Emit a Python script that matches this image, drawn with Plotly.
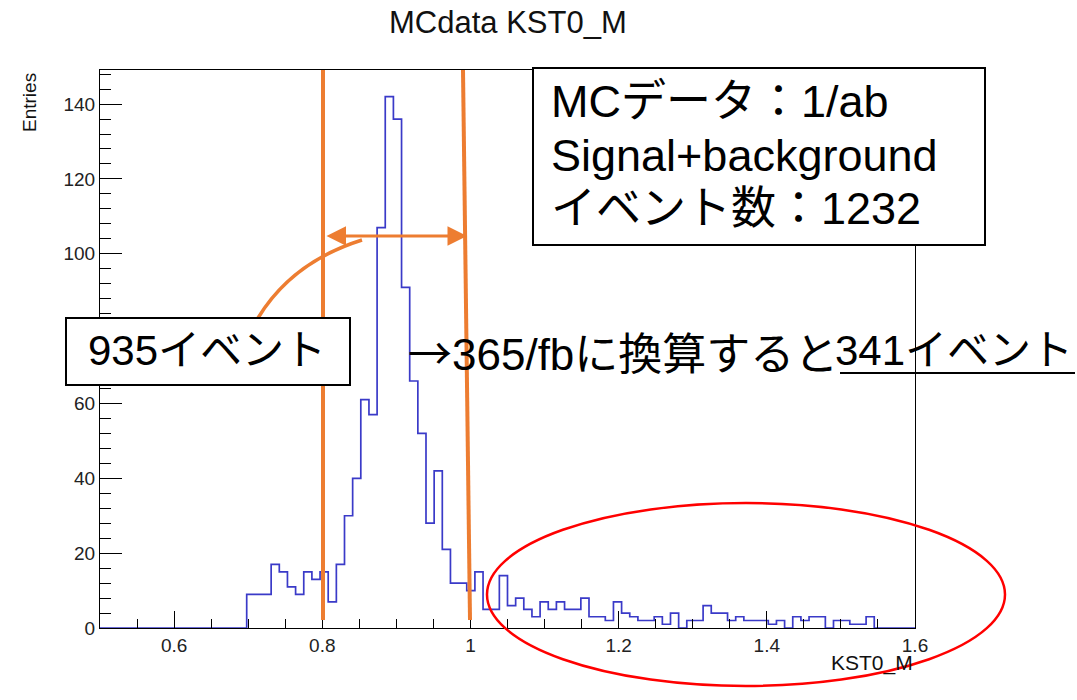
import plotly.graph_objects as go

# ---- histogram data: KST0_M, 100 equal bins on [0.5, 1.6] ----
x_min, x_max, n_bins = 0.5, 1.6, 100
first_bin = 18
bin_counts = [9, 9, 9, 17, 15, 11, 9, 15, 13, 15, 7, 17,
              30, 40, 61, 57, 107, 142, 136, 91, 66, 52,
              28, 42, 21, 12, 12, 10, 15, 5, 5, 14,
              6, 8, 5, 3, 7, 5, 7, 5, 5, 8,
              3, 3, 2, 7, 4, 3, 2, 2, 3, 1,
              4, 0, 2, 2, 6, 4, 4, 2, 3, 2,
              2, 2, 1, 2, 0, 3, 2, 3, 3, 0,
              2, 2, 1, 1, 3]

hist_title = "MCdata KST0_M"
x_title = "KST0_M"
y_title = "Entries"

# slide notes
info_lines = ["MCデータ：1/ab", "Signal+background", "イベント数：1232"]
window_label = "935イベント"
convert_text = "→365/fbに換算すると"
convert_result = "341イベント"

counts = [0] * first_bin + bin_counts
counts += [0] * (n_bins - len(counts))
width = (x_max - x_min) / n_bins
edges = [x_min + i * width for i in range(n_bins + 1)]
y_max = 1.05 * max(counts)

# plot frame in pixels (canvas 1077 x 700)
W, H = 1077, 700
L, R, T, B = 100, 915, 70, 628


def px(x):
    return (x - L) / (R - L)


def py(y):
    return (B - y) / (B - T)


ORANGE = "#ED7D31"
ROOT_FONT = "Liberation Sans"
SLIDE_FONT = "Liberation Sans, Noto Sans CJK JP"
CJK_FONT = "Noto Sans CJK JP"

fig = go.Figure()
fig.add_trace(go.Scatter(
    x=edges, y=counts + [counts[-1]],
    mode="lines", line=dict(color="#3a3ac8", width=1.7, shape="hv"),
    hoverinfo="skip", showlegend=False,
))

axis_common = dict(
    showgrid=False, zeroline=False, showline=True, linecolor="black",
    linewidth=1, mirror=True, ticks="inside", tickcolor="black",
    tickwidth=1, tickfont=dict(family=ROOT_FONT, size=19, color="#222"),
)
fig.update_xaxes(range=[x_min, x_max], tick0=0, dtick=0.2, ticklen=17,
                 minor=dict(dtick=0.05, ticks="inside", ticklen=9,
                            tickcolor="black", showgrid=False),
                 **axis_common)
fig.update_yaxes(range=[0, y_max], tick0=0, dtick=20, ticklen=22,
                 minor=dict(dtick=4, ticks="inside", ticklen=11,
                            tickcolor="black", showgrid=False),
                 **axis_common)

shapes = [
    # selection window lines
    dict(type="line", xref="paper", yref="paper", x0=px(323), y0=py(70),
         x1=px(323), y1=py(620), line=dict(color=ORANGE, width=4)),
    dict(type="line", xref="paper", yref="paper", x0=px(463), y0=py(70),
         x1=px(470), y1=py(620), line=dict(color=ORANGE, width=4)),
    # curved pointer from the count box to the arrow
    dict(type="path", xref="paper", yref="paper",
         path=f"M {px(258)},{py(318)} Q {px(292)},{py(262)} {px(362)},{py(240)}",
         line=dict(color=ORANGE, width=3.5)),
    # info box
    dict(type="rect", xref="paper", yref="paper", x0=px(533), y0=py(245),
         x1=px(985), y1=py(68), fillcolor="white",
         line=dict(color="black", width=2)),
    # count box
    dict(type="rect", xref="paper", yref="paper", x0=px(66), y0=py(385),
         x1=px(350), y1=py(318), fillcolor="white",
         line=dict(color="black", width=2)),
    # underline of the converted result
    dict(type="line", xref="paper", yref="paper", x0=px(840), y0=py(373),
         x1=px(1075), y1=py(373), line=dict(color="black", width=2)),
    # background region ellipse
    dict(type="circle", xref="paper", yref="paper", x0=px(487), y0=py(686),
         x1=px(1005), y1=py(503), line=dict(color="#FF0000", width=2.5)),
]

arrow_glyph, convert_rest = convert_text[0], convert_text[1:]

annotations = [
    dict(text=hist_title, x=px(508), y=py(23), xref="paper", yref="paper",
         showarrow=False, xanchor="center", yanchor="middle",
         font=dict(family=ROOT_FONT, size=31, color="#111")),
    dict(text=y_title, x=px(30), y=py(103), xref="paper", yref="paper",
         showarrow=False, textangle=-90, xanchor="center", yanchor="middle",
         font=dict(family=ROOT_FONT, size=19, color="#111")),
    dict(text=x_title, x=px(915), y=py(663), xref="paper", yref="paper",
         showarrow=False, xanchor="right", yanchor="middle",
         font=dict(family=ROOT_FONT, size=21, color="#111")),
    # double-headed arrow across the window
    dict(text="", x=px(467), y=py(236), xref="paper", yref="paper",
         ax=-142, ay=0, axref="pixel", ayref="pixel", showarrow=True,
         arrowhead=2, startarrowhead=2, arrowside="end+start",
         arrowwidth=3, arrowsize=1.3, startarrowsize=1.3,
         arrowcolor=ORANGE, standoff=0, startstandoff=0),
    dict(text=window_label, x=px(207), y=py(351), xref="paper", yref="paper",
         showarrow=False, xanchor="center", yanchor="middle",
         font=dict(family=SLIDE_FONT, size=42, color="black")),
    dict(text=convert_result, x=px(1075), y=py(351), xref="paper", yref="paper",
         showarrow=False, xanchor="right", yanchor="middle",
         font=dict(family=SLIDE_FONT, size=42, color="black")),
    dict(text=f"<span style='font-family:{CJK_FONT}'>{arrow_glyph}</span>{convert_rest}",
         x=px(840), y=py(351), xref="paper", yref="paper",
         showarrow=False, xanchor="right", yanchor="middle",
         font=dict(family=SLIDE_FONT, size=44, color="black")),
]
for line, yc in zip(info_lines, [101, 155, 208]):
    annotations.append(dict(
        text=line, x=px(549), y=py(yc), xref="paper", yref="paper",
        showarrow=False, xanchor="left", yanchor="middle",
        font=dict(family=SLIDE_FONT, size=45, color="black")))

fig.update_layout(
    width=W, height=H,
    margin=dict(l=L, r=W - R, t=T, b=H - B),
    paper_bgcolor="white", plot_bgcolor="white",
    showlegend=False, shapes=shapes, annotations=annotations,
)

fig.write_html("out.html")
